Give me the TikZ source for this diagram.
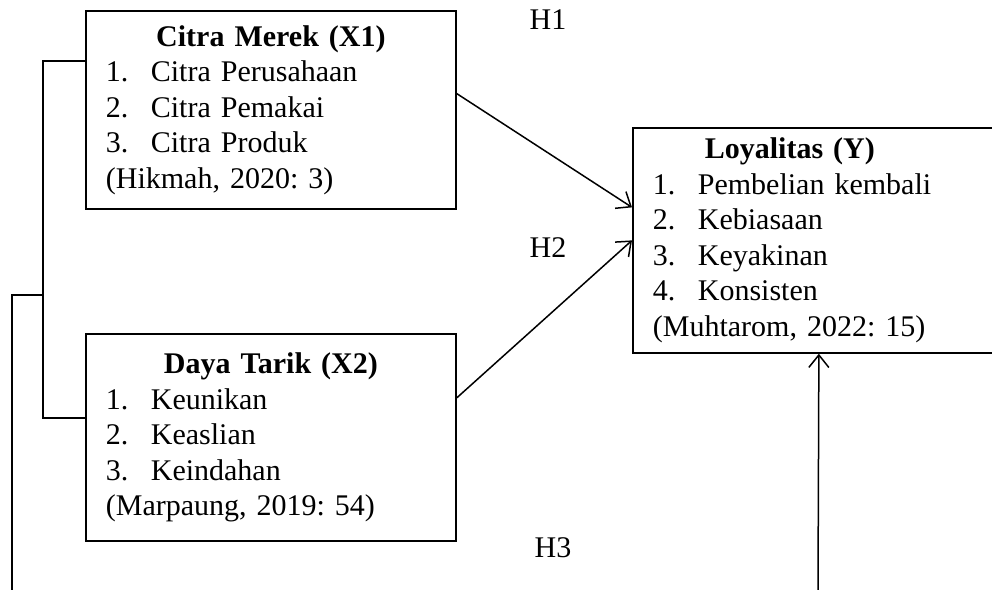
\documentclass[tikz,border=0pt]{standalone}
\usepackage{fontspec}
\setmainfont{Liberation Serif}
\usetikzlibrary{arrows.meta,calc}

\newcommand{\judul}[2][\linewidth]{\makebox[#1]{\textbf{#2}}}
\newcommand{\butir}[2]{\makebox[18pt][l]{#1}#2}
\frenchspacing

\begin{document}
\begin{tikzpicture}[x=0.4pt,y=-0.4pt]
     % Define styles
     \tikzstyle{box} = [draw, line width=0.7pt, anchor=north west, inner xsep=8pt,
                        align=left, font=\fontsize{12}{14.2}\selectfont]
     \tikzstyle{garis} = [line width=0.6pt]
     \tikzstyle{panah} = [line width=0.6pt, -{Straight Barb[length=5pt,width=8pt]}]
     \tikzstyle{hipo} = [font=\fontsize{12}{14.2}\selectfont]

     \useasboundingbox (0,0) rectangle (992,590);
     \clip (0,0) rectangle (992,590);

     % Citra Merek
     \node[box, minimum width=148pt, minimum height=79.2pt, text width=132pt] (x1) at (85,10)
          {\judul{Citra Merek (X1)}\\
           \butir{1.}{Citra Perusahaan}\\
           \butir{2.}{Citra Pemakai}\\
           \butir{3.}{Citra Produk}\\
           (Hikmah, 2020: 3)};

     % Daya Tarik
     \node[box, minimum width=148pt, minimum height=82.8pt, text width=132pt] (x2) at (85,333)
          {\judul{Daya Tarik (X2)}\\
           \butir{1.}{Keunikan}\\
           \butir{2.}{Keaslian}\\
           \butir{3.}{Keindahan}\\
           (Marpaung, 2019: 54)};

     % Loyalitas
     \node[box, minimum width=148.8pt, minimum height=90pt, text width=132.8pt] (loy) at (632,127)
          {\judul[109.6pt]{Loyalitas (Y)}\\
           \butir{1.}{Pembelian kembali}\\
           \butir{2.}{Kebiasaan}\\
           \butir{3.}{Keyakinan}\\
           \butir{4.}{Konsisten}\\
           (Muhtarom, 2022: 15)};

     % Hypotheses
     \node[hipo] (h1) at (548,20) {H1};
     \node[hipo] (h2) at (548,248) {H2};
     \node[hipo] (h3) at (553,548) {H3};

     % Bracket X1 & X2
     \coordinate (k1) at ($(x1.north west)+(0,51)$);
     \coordinate (k2) at ($(x2.north west)+(0,85)$);
     \coordinate (tengah) at (43,295);
     \coordinate (bl) at (12,590);
     \coordinate (br) at (818,590);
     \draw[garis] (k1) -- ++(-42,0) |- (k2);
     \draw[garis] (tengah) -- (12,295) -- (bl);

     % Arrows to Y
     \coordinate (in1) at ($(loy.west)+(0,-33)$);
     \draw[panah] (x1.5) -- (in1);
     \draw[panah] (x2.12) -- (loy.west);
     \draw[panah] (br) -- (loy.south);

\end{tikzpicture}
\end{document}
